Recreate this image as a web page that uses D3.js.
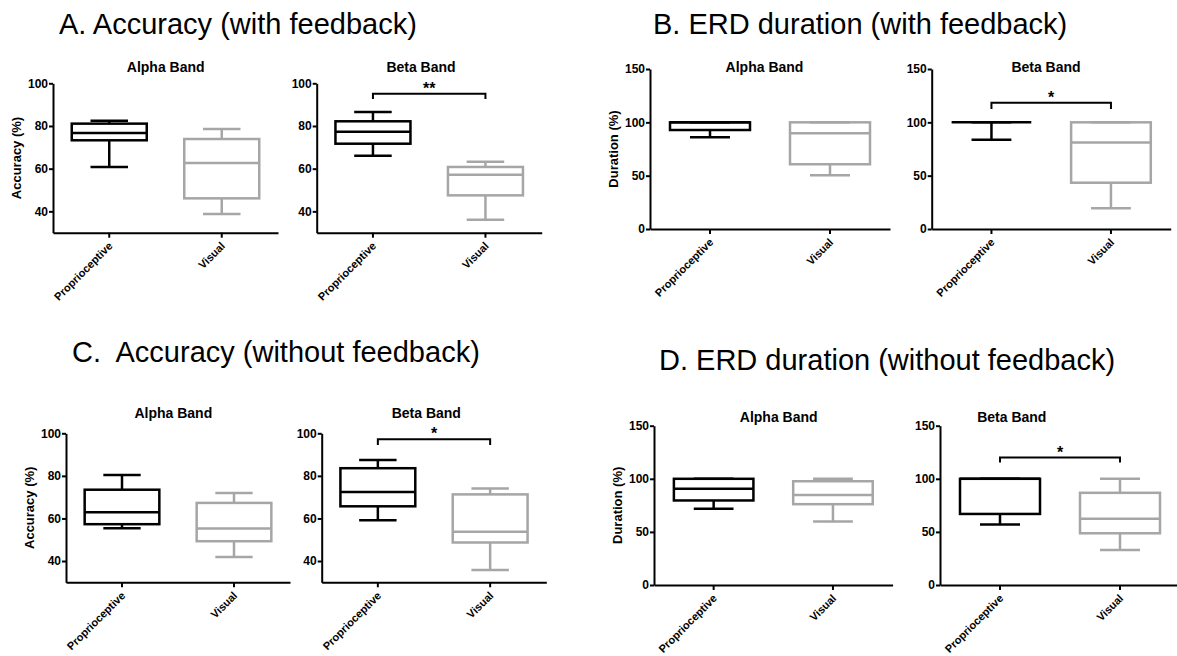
<!DOCTYPE html>
<html>
<head>
<meta charset="utf-8">
<script src="https://cdn.jsdelivr.net/npm/d3@7"></script>
<style>
  body { margin: 0; background: #fff; }
  svg { font-family: "Liberation Sans", Arial, sans-serif; }
</style>
</head>
<body>
<div id="chart"></div>
<script>
// categories and tick labels
var groups = ["Proprioceptive", "Visual"];
var accTicks = [40, 60, 80, 100];
var durTicks = [0, 50, 100, 150];

// box stats per group: [min, q1, median, q3, max]
var accFbAlpha = [[60.8, 73.3, 76.7, 81.1, 82.5], [38.8, 46.1, 62.7, 73.9, 78.6]];
var accFbBeta = [[66.1, 71.7, 77.3, 82.2, 86.5], [36.1, 47.5, 57.2, 60.8, 63.3]];
var durFbAlpha = [[86, 92.8, 100, 100, 100], [50.3, 60.7, 89.7, 100, 100]];
var durFbBeta = [[83.7, 100, 100, 100, 100], [19.4, 43.4, 81, 100, 100]];
var accNoFbAlpha = [[55.4, 57.3, 62.9, 73.5, 80.4], [41.9, 49.3, 55.3, 67.3, 72]];
var accNoFbBeta = [[59.2, 65.7, 72.4, 83.6, 87.4], [35.8, 48.7, 53.7, 71.3, 74.1]];
var durNoFbAlpha = [[71.7, 79.6, 90.6, 100, 100], [59.7, 76.1, 84.8, 97.7, 100]];
var durNoFbBeta = [[57, 66.9, 100, 100, 100], [33, 48.7, 62.3, 86.8, 100]];

// significance stars (beta band panels A, B, C, D)
var sigStars = ["**", "*", "*", "*"];

var BLACK = "#000", GRAY = "#a6a6a6";

var svg = d3.select("#chart").append("svg")
  .attr("width", 1177)
  .attr("height", 656);

// panel titles
var titles = [
  { text: "A. Accuracy (with feedback)", x: 59, y: 34 },
  { text: "B. ERD duration (with feedback)", x: 653, y: 34 },
  { text: "C.  Accuracy (without feedback)", x: 72, y: 362 },
  { text: "D. ERD duration (without feedback)", x: 659, y: 370 }
];
svg.selectAll(".ptitle").data(titles).enter().append("text")
  .attr("class", "ptitle")
  .attr("x", function(d) { return d.x; })
  .attr("y", function(d) { return d.y; })
  .style("font-size", "29px")
  .style("white-space", "pre")
  .attr("xml:space", "preserve")
  .text(function(d) { return d.text; });

// subplot layout
var subplots = [
  { name: "Alpha Band", data: accFbAlpha, left: 53, top: 83.3, bottom: 232.7, width: 225, domain: [30, 100], ticks: accTicks, ylabel: "Accuracy (%)", tx: 165.7, ty: 72 },
  { name: "Beta Band", data: accFbBeta, left: 316.7, top: 83.3, bottom: 232.7, width: 225, domain: [30, 100], ticks: accTicks, tx: 421, ty: 72, sig: 0, sigAt: 95.1, sigDrop: 2.5 },
  { name: "Alpha Band", data: durFbAlpha, left: 650, top: 69, bottom: 229, width: 240, domain: [0, 150], ticks: durTicks, ylabel: "Duration (%)", tx: 764.5, ty: 72 },
  { name: "Beta Band", data: durFbBeta, left: 931.7, top: 69, bottom: 229, width: 239, domain: [0, 150], ticks: durTicks, tx: 1046, ty: 72, sig: 1, sigAt: 118.4, sigDrop: 6 },
  { name: "Alpha Band", data: accNoFbAlpha, left: 66, top: 433.3, bottom: 582.3, width: 224, domain: [30, 100], ticks: accTicks, ylabel: "Accuracy (%)", tx: 173.3, ty: 418 },
  { name: "Beta Band", data: accNoFbBeta, left: 321.7, top: 433.3, bottom: 582.3, width: 224.6, domain: [30, 100], ticks: accTicks, tx: 426.3, ty: 418, sig: 2, sigAt: 97.2, sigDrop: 2.7 },
  { name: "Alpha Band", data: durNoFbAlpha, left: 654, top: 425.7, bottom: 585, width: 238.6, domain: [0, 150], ticks: durTicks, ylabel: "Duration (%)", tx: 778.7, ty: 421.5 },
  { name: "Beta Band", data: durNoFbBeta, left: 940, top: 425.7, bottom: 585, width: 240, domain: [0, 150], ticks: durTicks, tx: 1011.8, ty: 421.5, sig: 3, sigAt: 120, sigDrop: 4.6 }
];

subplots.forEach(function(s) {
  var g = svg.append("g");

  var x = d3.scaleBand()
    .domain(groups)
    .range([s.left, s.left + s.width])
    .paddingInner(1 / 3)
    .paddingOuter(1 / 6);
  var y = d3.scaleLinear().domain(s.domain).range([s.bottom, s.top]);
  var bw = x.bandwidth();

  // y axis
  var yg = g.append("g")
    .attr("transform", "translate(" + s.left + ",0)")
    .call(d3.axisLeft(y).tickValues(s.ticks).tickSize(4).tickSizeOuter(0).tickPadding(1));
  yg.selectAll("text").style("font-size", "12px").style("font-weight", "bold").attr("fill", BLACK);

  // x axis
  var xg = g.append("g")
    .attr("transform", "translate(0," + s.bottom + ")")
    .call(d3.axisBottom(x).tickSize(5).tickSizeOuter(0));
  xg.selectAll("text")
    .attr("x", 0).attr("y", 0).attr("dy", 0)
    .attr("text-anchor", "end")
    .attr("transform", "translate(4,14) rotate(-45)")
    .style("font-size", "11px").style("font-weight", "bold").attr("fill", BLACK);

  [yg, xg].forEach(function(a) {
    a.select(".domain").attr("stroke", BLACK).attr("stroke-width", 2);
    a.selectAll(".tick line").attr("stroke", BLACK).attr("stroke-width", 2);
  });

  // subplot title
  g.append("text")
    .attr("x", s.tx).attr("y", s.ty)
    .attr("text-anchor", "middle")
    .style("font-size", "14px").style("font-weight", "bold")
    .text(s.name);

  // y label
  if (s.ylabel) {
    g.append("text")
      .attr("transform", "translate(" + (s.left - 37) + "," + ((s.top + s.bottom) / 2) + ") rotate(-90)")
      .attr("text-anchor", "middle")
      .attr("dy", "0.35em")
      .style("font-size", "13px").style("font-weight", "bold")
      .text(s.ylabel);
  }

  // boxes
  var boxes = g.selectAll(".box").data(s.data).enter().append("g")
    .attr("class", "box")
    .attr("stroke", function(d, i) { return i === 0 ? BLACK : GRAY; })
    .attr("stroke-width", 2.5)
    .attr("fill", "none");

  var cx = function(i) { return x(groups[i]) + bw / 2; };

  boxes.append("line")
    .attr("x1", function(d, i) { return cx(i); })
    .attr("x2", function(d, i) { return cx(i); })
    .attr("y1", function(d) { return y(d[0]); })
    .attr("y2", function(d) { return y(d[1]); });
  boxes.append("line")
    .attr("x1", function(d, i) { return cx(i); })
    .attr("x2", function(d, i) { return cx(i); })
    .attr("y1", function(d) { return y(d[3]); })
    .attr("y2", function(d) { return y(d[4]); });
  [0, 4].forEach(function(k) {
    boxes.append("line")
      .attr("x1", function(d, i) { return cx(i) - bw / 4; })
      .attr("x2", function(d, i) { return cx(i) + bw / 4; })
      .attr("y1", function(d) { return y(d[k]); })
      .attr("y2", function(d) { return y(d[k]); });
  });
  boxes.append("rect")
    .attr("x", function(d, i) { return x(groups[i]); })
    .attr("width", bw)
    .attr("y", function(d) { return y(d[3]); })
    .attr("height", function(d) { return y(d[1]) - y(d[3]); });
  boxes.append("line")
    .attr("x1", function(d, i) { return x(groups[i]); })
    .attr("x2", function(d, i) { return x(groups[i]) + bw; })
    .attr("y1", function(d) { return y(d[2]); })
    .attr("y2", function(d) { return y(d[2]); });

  // significance bracket
  if (s.sig !== undefined) {
    var x0 = cx(0), x1 = cx(1);
    var yt = y(s.sigAt), yb = y(s.sigAt - s.sigDrop);
    g.append("path")
      .attr("d", "M" + x0 + "," + yb + "V" + yt + "H" + x1 + "V" + yb)
      .attr("fill", "none").attr("stroke", BLACK).attr("stroke-width", 2);
    g.append("text")
      .attr("x", (x0 + x1) / 2).attr("y", yt)
      .attr("text-anchor", "middle")
      .style("font-size", "16px").style("font-weight", "bold")
      .text(sigStars[s.sig]);
  }
});
</script>
</body>
</html>
